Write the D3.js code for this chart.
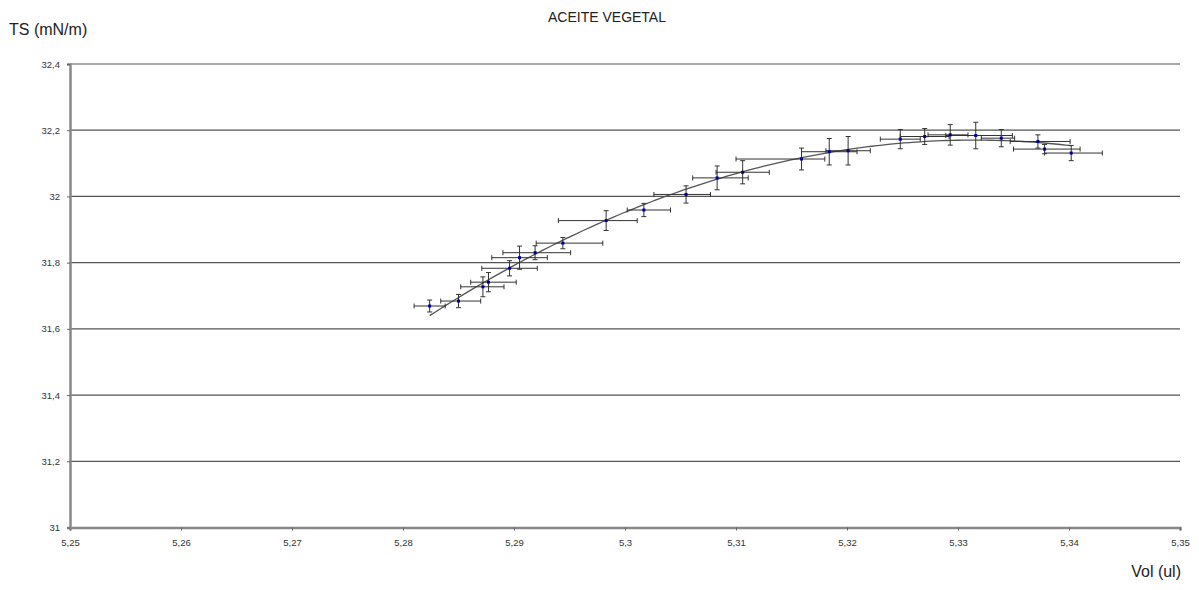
<!DOCTYPE html>
<html><head><meta charset="utf-8">
<script src="https://cdn.jsdelivr.net/npm/d3@7"></script>
<style>body{margin:0;background:#fff}svg{display:block}</style>
</head><body>
<svg id="c" width="1199" height="590"></svg>
<script>
const vol = [5.2824,5.2850,5.2872,5.2877,5.2896,5.2905,5.2919,5.2944,5.2983,5.3017,5.3055,5.3083,5.3106,5.3159,5.3184,5.3201,5.3248,5.3270,5.3293,5.3316,5.3339,5.3372,5.3378,5.3402];
const ts  = [31.669,31.684,31.727,31.741,31.783,31.815,31.830,31.859,31.927,31.959,32.006,32.056,32.073,32.113,32.135,32.138,32.173,32.181,32.186,32.184,32.176,32.166,32.143,32.131];
const tsErr = [0.018,0.020,0.030,0.029,0.023,0.035,0.021,0.017,0.030,0.020,0.026,0.036,0.035,0.033,0.040,0.043,0.029,0.024,0.031,0.040,0.026,0.020,0.014,0.023];
const volErrMinus = [0.0014,0.0016,0.0020,0.0016,0.0025,0.0025,0.0029,0.0024,0.0043,0.0015,0.0029,0.0022,0.0024,0.0059,0.0025,0.0020,0.0018,0.0022,0.0020,0.0027,0.0018,0.0025,0.0028,0.0024];
const volErrPlus  = [0.0014,0.0020,0.0019,0.0025,0.0025,0.0025,0.0032,0.0036,0.0028,0.0024,0.0022,0.0028,0.0024,0.0021,0.0025,0.0020,0.0018,0.0022,0.0016,0.0033,0.0012,0.0029,0.0032,0.0028];
const xTicks = [5.25,5.26,5.27,5.28,5.29,5.30,5.31,5.32,5.33,5.34,5.35];
const yTicks = [31,31.2,31.4,31.6,31.8,32,32.2,32.4];
const fmt = v => String(+v.toFixed(2)).replace('.', ',');

const svg = d3.select('#c');
const x = d3.scaleLinear().domain([5.25,5.35]).range([70,1180]);
const y = d3.scaleLinear().domain([31,32.4]).range([527.5,64]);
const font = 'Liberation Sans, Arial, sans-serif';

// gridlines
svg.append('g').selectAll('line').data(yTicks.filter(t=>t>31)).join('line')
  .attr('x1',x(5.25)).attr('x2',x(5.35)).attr('y1',d=>y(d)).attr('y2',d=>y(d))
  .attr('stroke','#555').attr('stroke-width',1.2);

// axes
const xa = svg.append('g').attr('transform',`translate(0,${y(31)})`)
  .call(d3.axisBottom(x).tickValues(xTicks).tickSize(3).tickPadding(9).tickFormat(fmt));
const ya = svg.append('g').attr('transform',`translate(${x(5.25)},0)`)
  .call(d3.axisLeft(y).tickValues(yTicks).tickSize(3).tickPadding(7).tickFormat(fmt));
[xa,ya].forEach(a=>{
  a.select('.domain').attr('stroke','#888').attr('stroke-width',2.5);
  a.selectAll('.tick line').attr('stroke','#666');
  a.selectAll('text').attr('font-family',font).attr('font-size',9.5).attr('fill','#333');
});

// trendline: 2nd order polynomial least squares fit of the data
(function(){
  const n=vol.length, x0=5.3;
  let S=[0,0,0,0,0], T=[0,0,0];
  for(let i=0;i<n;i++){const u=vol[i]-x0;for(let k=0;k<5;k++)S[k]+=Math.pow(u,k);for(let k=0;k<3;k++)T[k]+=ts[i]*Math.pow(u,k);}
  const A=[[S[0],S[1],S[2],T[0]],[S[1],S[2],S[3],T[1]],[S[2],S[3],S[4],T[2]]];
  for(let i=0;i<3;i++){for(let j=i+1;j<3;j++){const f=A[j][i]/A[i][i];for(let k=i;k<4;k++)A[j][k]-=f*A[i][k];}}
  const c=[0,0,0];
  for(let i=2;i>=0;i--){let s=A[i][3];for(let k=i+1;k<3;k++)s-=A[i][k]*c[k];c[i]=s/A[i][i];}
  const xs=d3.range(120).map(i=>d3.min(vol)+(d3.max(vol)-d3.min(vol))*i/119);
  svg.append('path').datum(xs)
    .attr('d',d3.line().x(d=>x(d)).y(d=>{const u=d-x0;return y(c[0]+c[1]*u+c[2]*u*u);}))
    .attr('fill','none').attr('stroke','#555').attr('stroke-width',1.3);
})();

// error bars
const idx = d3.range(vol.length);
const eb = svg.append('g').attr('stroke','#333').attr('stroke-width',1);
idx.forEach(i=>{
  const cx=x(vol[i]), cy=y(ts[i]);
  const xl=x(vol[i]-volErrMinus[i]), xr=x(vol[i]+volErrPlus[i]);
  const yt=y(ts[i]+tsErr[i]), yb=y(ts[i]-tsErr[i]);
  eb.append('line').attr('x1',xl).attr('x2',xr).attr('y1',cy).attr('y2',cy);
  eb.append('line').attr('x1',xl).attr('x2',xl).attr('y1',cy-2.5).attr('y2',cy+2.5);
  eb.append('line').attr('x1',xr).attr('x2',xr).attr('y1',cy-2.5).attr('y2',cy+2.5);
  eb.append('line').attr('x1',cx).attr('x2',cx).attr('y1',yt).attr('y2',yb);
  eb.append('line').attr('x1',cx-2.5).attr('x2',cx+2.5).attr('y1',yt).attr('y2',yt);
  eb.append('line').attr('x1',cx-2.5).attr('x2',cx+2.5).attr('y1',yb).attr('y2',yb);
});

// markers
svg.append('g').selectAll('rect').data(idx).join('rect')
  .attr('x',i=>x(vol[i])-1.5).attr('y',i=>y(ts[i])-1.5).attr('width',3).attr('height',3)
  .attr('fill','#000099');

// texts
svg.append('text').attr('x',607).attr('y',22).attr('text-anchor','middle')
  .attr('font-family',font).attr('font-size',14).attr('fill','#222').text('ACEITE VEGETAL');
svg.append('text').attr('x',9).attr('y',35)
  .attr('font-family',font).attr('font-size',16).attr('fill','#222').text('TS (mN/m)');
svg.append('text').attr('x',1181).attr('y',577).attr('text-anchor','end')
  .attr('font-family',font).attr('font-size',16).attr('fill','#222').text('Vol (ul)');
</script>
</body></html>
